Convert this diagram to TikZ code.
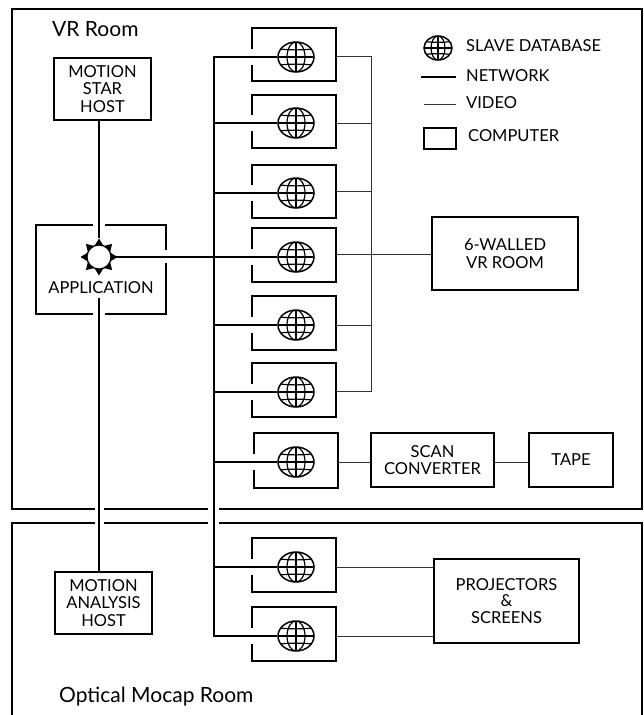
\documentclass[tikz,border=0pt]{standalone}
\usepackage{fontspec}
\setmainfont{Lato}
\usetikzlibrary{shapes.geometric}
\tikzset{
  boxnode/.style={draw=black,line width=1.6pt,fill=white,rectangle,inner sep=0pt,align=center,font=\labelfont},
  globenode/.style 2 args={ellipse,draw=black,line width=1.5pt,fill=white,inner sep=0pt,minimum width=2*#1pt,minimum height=2*#2pt,
    path picture={
      \begin{scope}[shift={(path picture bounding box.center)},x=#1pt,y=#2pt,line width=1.2pt]
        \draw (0,-1) -- (0,1);
        \draw (0,0) ellipse [x radius=0.5,y radius=1];
        \draw (-1,0) -- (1,0);
        \draw (-1,0.55) .. controls (-0.4,0.45) and (0.4,0.45) .. (1,0.55);
        \draw (-1,-0.55) .. controls (-0.4,-0.45) and (0.4,-0.45) .. (1,-0.55);
      \end{scope}}},
  netline/.style={line width=2.4pt,black},
  videoline/.style={line width=1pt,black!80},
  framepath/.style={line width=1.7pt,black},
  textnode/.style={inner sep=0pt,align=center,font=\labelfont},
  roomtext/.style={inner sep=0pt,font=\fontsize{21}{24}\selectfont},
  gapmark/.style={white,line width=3.5pt}
}
\newcommand{\labelfont}{\fontsize{16.5}{17.5}\selectfont}
\begin{document}
\begin{tikzpicture}[x=1pt,y=-1pt]
\useasboundingbox (0,0) rectangle (643,715);
% room frames
\draw[framepath] (95,509) -- (12,509) -- (12,9) -- (642,9) -- (642,509) -- (219,509);
\draw[framepath] (104,509) -- (208,509);
\draw[framepath] (12,715) -- (12,523) -- (95,523);
\draw[framepath] (104,523) -- (208,523);
\draw[framepath] (219,523) -- (642,523) -- (642,715);
\node[roomtext,anchor=west] (vr) at (52,29) {VR Room};
\node[roomtext,anchor=west] (mocap) at (59,697) {Optical Mocap Room};
% hosts
\node[boxnode,minimum width=97pt,minimum height=62pt] (star) at (102.5,89) {MOTION\\STAR\\HOST};
\node[boxnode,minimum width=97pt,minimum height=62pt] (ana) at (103.5,603) {MOTION\\ANALYSIS\\HOST};
\node[boxnode,minimum width=130pt,minimum height=89pt] (app) at (101,269.5) {};
\draw[gapmark] (93,225) -- (105,225);
\draw[gapmark] (93,314) -- (105,314);
\draw[gapmark] (166,250) -- (166,263);
\node[star,star points=8,star point ratio=1.55,fill=black,minimum size=37pt,inner sep=0pt] (sun) at (99,257) {};
\node[circle,fill=white,draw=black,line width=1.2pt,minimum size=24pt,inner sep=0pt] (hub) at (99,257) {};
\node[textnode] (applbl) at (101,288) {APPLICATION};
\coordinate (appb) at (99,298);
\draw[netline] (star.south -| hub) -- (sun.north);
\draw[netline] (appb) -- (ana.north -| appb);
% computers
\foreach \n/\x/\yt/\yb/\gy/\vy in {1/252/28/81/57/56,2/252/95/148/123/123,3/252/165/218/193/191,4/252/228/282/257/254.5,5/252/296/350/325/325,6/252/363/417/392/391.5,7/254/433/488/462/462,8/252/538/592/567/567,9/252/607/661/636/636}{
  \node[boxnode,minimum width=84pt,minimum height=\yb pt-\yt pt] (c\n) at ({\x+42},{(\yt+\yb)/2}) {};
  \draw[gapmark,line width=4pt] (\x,\gy-8) -- (\x,\gy+8);
  \coordinate (v\n) at ({\x+84},\vy);
  \coordinate (b\n) at (214,\gy);
  \node[globenode={18}{15}] (g\n) at (296,\gy) {};
  \draw[netline] (b\n) -- (g\n.west);
}
\draw[netline,line cap=rect] (b1) -- (b9);
\draw[netline] (hub.east) -- (g4.west);
% video
\coordinate (vt) at (371,56);
\coordinate (vb) at (371,391.5);
\draw[videoline] (v1) -- (vt) -- (vb) -- (v6);
\foreach \n in {2,3,4,5}{\draw[videoline] (v\n) -- (v\n -| vt);}
\node[boxnode,minimum width=146pt,minimum height=73pt] (wall) at (505,253.5) {6-WALLED\\VR ROOM};
\draw[videoline] (v4) -- (v4 -| wall.west);
\node[boxnode,minimum width=123pt,minimum height=54pt] (scan) at (432.5,460) {SCAN\\CONVERTER};
\node[boxnode,minimum width=84pt,minimum height=54pt] (tape) at (571,460) {TAPE};
\draw[videoline] (v7) -- (v7 -| scan.west);
\draw[videoline] (v7 -| scan.east) -- (v7 -| tape.west);
\node[boxnode,minimum width=145pt,minimum height=84pt] (proj) at (506.5,601) {PROJECTORS\\[-1pt]\&\\[-1pt]SCREENS};
\draw[videoline] (v8) -- (v8 -| proj.west);
\draw[videoline] (v9) -- (v9 -| proj.west);
% legend
\node[globenode={14}{12}] (lg) at (438,48) {};
\node[textnode,anchor=west] (l1) at (466,45.5) {SLAVE DATABASE};
\node[textnode,anchor=west] (l2) at (466,76) {NETWORK};
\node[textnode,anchor=west] (l3) at (466,103) {VIDEO};
\node[boxnode,minimum width=32pt,minimum height=21pt] (l4b) at (440,138.5) {};
\node[textnode,anchor=west] (l4) at (468,136) {COMPUTER};
\coordinate (n1) at (421,77); \coordinate (n2) at (456,77);
\coordinate (w1) at (424,104); \coordinate (w2) at (456,104);
\draw[netline] (n1) -- (n2);
\draw[videoline] (w1) -- (w2);
\end{tikzpicture}
\end{document}
